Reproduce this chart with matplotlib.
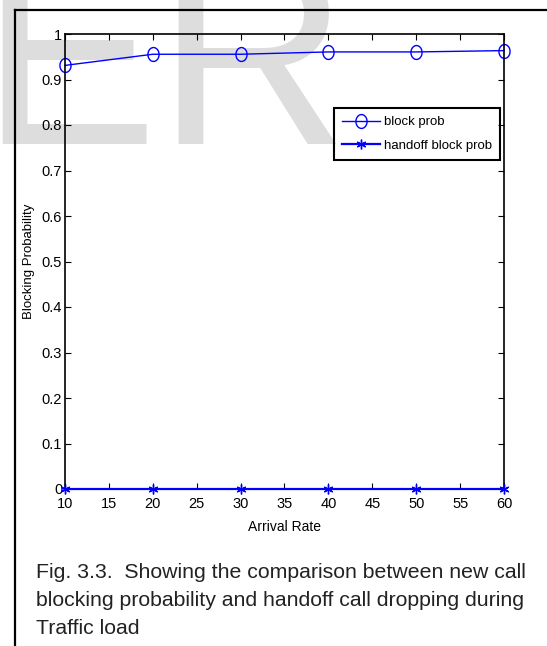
import matplotlib
matplotlib.use("Agg")
import matplotlib.pyplot as plt
from matplotlib.lines import Line2D
import numpy as np

arrival_rate = [10, 20, 30, 40, 50, 60]
block_prob = [0.931, 0.9555, 0.9555, 0.9606, 0.9606, 0.9635]
handoff_block_prob = [0, 0, 0, 0, 0, 0]
xticks = list(range(10, 61, 5))
yticks = [round(0.1 * i, 1) for i in range(11)]
caption = ["Fig. 3.3.  Showing the comparison between new call",
           "blocking probability and handoff call dropping during",
           "Traffic load"]

W, H = 547, 646
fig = plt.figure(figsize=(W / 100, H / 100), dpi=100)
plt.rcParams["font.family"] = ["Liberation Sans", "DejaVu Sans"]

# faint watermark behind everything
fig.text(-20 / W, 1 - 144 / H, "ER", fontsize=191, color="#dddddd",
         ha="left", va="baseline", zorder=-5)

# page frame
fig.add_artist(Line2D([15 / W, 15 / W], [0, 1 - 10 / H], color="black", lw=1.6))
fig.add_artist(Line2D([15 / W, 1], [1 - 10 / H, 1 - 10 / H], color="black", lw=1.6))

ax = fig.add_axes([65 / W, 1 - 489 / H, 439 / W, 455 / H])
ax.patch.set_alpha(0)

# slightly tall ellipse, the source image is squeezed sideways
t = np.linspace(0, 2 * np.pi, 40)
oval = list(zip(0.8 * np.cos(t), np.sin(t)))

ax.plot(arrival_rate, block_prob, color="blue", lw=1, marker=oval,
        markersize=10, markerfacecolor="none", markeredgecolor="blue",
        markeredgewidth=1, label="block prob", clip_on=False)
ax.plot(arrival_rate, handoff_block_prob, color="blue", lw=1.6, marker=(6, 2, 0),
        markersize=7, markeredgewidth=1, label="handoff block prob",
        clip_on=False, zorder=5)

ax.set_xlim(10, 60)
ax.set_ylim(0, 1)
ax.set_xticks(xticks)
ax.set_yticks(yticks)
ax.set_yticklabels(["0" if v == 0 else ("1" if v == 1 else f"{v:.1f}") for v in yticks])
ax.tick_params(direction="in", length=4, width=0.8, top=True, right=True,
               labelsize=10.5)
ax.tick_params(axis="x", pad=6)
ax.tick_params(axis="y", pad=2)
for sp in ax.spines.values():
    sp.set_linewidth(1.2)

ax.set_xlabel("Arrival Rate", fontsize=10, labelpad=6)
ax.set_ylabel("Blocking Probability", fontsize=9.5, labelpad=5)

leg = ax.legend(loc="upper right", bbox_to_anchor=(500 / W, 1 - 108 / H),
                bbox_transform=fig.transFigure, fancybox=False,
                facecolor="none", edgecolor="black", framealpha=1,
                handlelength=2.9, borderpad=0.6, labelspacing=0.85,
                handletextpad=0.3, borderaxespad=0, prop={"size": 9.5})
leg.get_frame().set_linewidth(1.5)

for i, line in enumerate(caption):
    fig.text(36 / W, 1 - (578 + 28 * i) / H, line, fontsize=15.3,
             color="#222222", ha="left", va="baseline")

fig.savefig("out.png", dpi=100)
